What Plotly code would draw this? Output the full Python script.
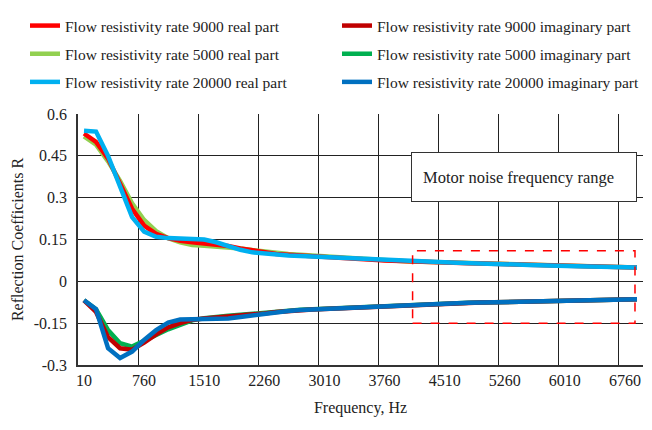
import plotly.graph_objects as go

# ---------------- data ----------------
freq = [10 + 150 * i for i in range(47)]  # 10 ... 6910 Hz (category steps of 150 Hz)
tick_labels = ["10", "760", "1510", "2260", "3010", "3760", "4510", "5260", "6010", "6760"]
tick_freqs = [10, 760, 1510, 2260, 3010, 3760, 4510, 5260, 6010, 6760]
y_ticks = [-0.3, -0.15, 0, 0.15, 0.3, 0.45, 0.6]
y_tick_text = ["-0.3", "-0.15", "0", "0.15", "0.3", "0.45", "0.6"]

real_20000 = [0.54, 0.537, 0.45, 0.34, 0.23, 0.178, 0.16, 0.155, 0.152, 0.152,
              0.15, 0.14, 0.126, 0.113, 0.104, 0.099, 0.096, 0.093, 0.091, 0.089,
              0.088, 0.086, 0.083, 0.080, 0.077, 0.075, 0.073, 0.071, 0.070, 0.069,
              0.068, 0.067, 0.065, 0.064, 0.063, 0.061, 0.060, 0.059, 0.057, 0.056,
              0.055, 0.054, 0.053, 0.052, 0.051, 0.051, 0.050]
real_9000 = [0.53, 0.50, 0.44, 0.35, 0.26, 0.20, 0.17, 0.155, 0.145, 0.14,
             0.137, 0.133, 0.127, 0.118, 0.110, 0.103, 0.098, 0.095, 0.092, 0.090,
             0.088, 0.086, 0.083, 0.080, 0.077, 0.075, 0.073, 0.071, 0.070, 0.069,
             0.068, 0.067, 0.065, 0.064, 0.063, 0.061, 0.060, 0.059, 0.057, 0.056,
             0.055, 0.054, 0.053, 0.052, 0.051, 0.051, 0.050]
real_5000 = [0.52, 0.49, 0.43, 0.36, 0.28, 0.22, 0.18, 0.155, 0.14, 0.13,
             0.128, 0.125, 0.122, 0.118, 0.112, 0.106, 0.102, 0.098, 0.095, 0.092,
             0.090, 0.087, 0.084, 0.081, 0.078, 0.075, 0.073, 0.071, 0.070, 0.069,
             0.068, 0.067, 0.065, 0.064, 0.063, 0.061, 0.060, 0.059, 0.057, 0.056,
             0.055, 0.054, 0.053, 0.052, 0.051, 0.051, 0.050]

imag_20000 = [-0.068, -0.10, -0.24, -0.275, -0.252, -0.21, -0.175, -0.148, -0.137, -0.136,
              -0.135, -0.135, -0.133, -0.128, -0.122, -0.116, -0.110, -0.106, -0.103, -0.101,
              -0.099, -0.097, -0.096, -0.094, -0.091, -0.088, -0.086, -0.084, -0.082, -0.080,
              -0.079, -0.078, -0.077, -0.076, -0.075, -0.074, -0.073, -0.072, -0.071, -0.070,
              -0.069, -0.068, -0.067, -0.066, -0.065, -0.065, -0.064]
imag_9000 = [-0.068, -0.11, -0.20, -0.24, -0.245, -0.22, -0.19, -0.165, -0.15, -0.138,
             -0.133, -0.130, -0.128, -0.125, -0.120, -0.115, -0.110, -0.106, -0.103, -0.101,
             -0.099, -0.097, -0.096, -0.094, -0.091, -0.088, -0.086, -0.084, -0.082, -0.080,
             -0.079, -0.078, -0.077, -0.076, -0.075, -0.074, -0.073, -0.072, -0.071, -0.070,
             -0.069, -0.068, -0.067, -0.066, -0.065, -0.065, -0.064]
imag_5000 = [-0.068, -0.10, -0.175, -0.222, -0.234, -0.215, -0.192, -0.172, -0.156, -0.14,
             -0.132, -0.126, -0.123, -0.120, -0.116, -0.112, -0.108, -0.105, -0.102, -0.100,
             -0.098, -0.097, -0.095, -0.093, -0.090, -0.088, -0.086, -0.084, -0.082, -0.080,
             -0.079, -0.078, -0.077, -0.076, -0.075, -0.074, -0.073, -0.072, -0.071, -0.070,
             -0.069, -0.068, -0.067, -0.066, -0.065, -0.065, -0.064]

# frequency range of motor noise (dashed box) and label
range_f = [4110, 6885]
range_r = [-0.15, 0.11]
box_label = "Motor noise frequency range"

FONT = "Liberation Serif"
TXT = "#222222"

fig = go.Figure()

series = [
    # (name, y, color, legend, rank)
    ("Flow resistivity rate 5000 real part", real_5000, "#92D050", "legend", 2),
    ("Flow resistivity rate 9000 real part", real_9000, "#FF0000", "legend", 1),
    ("Flow resistivity rate 20000 real part", real_20000, "#00B0F0", "legend", 3),
    ("Flow resistivity rate 5000 imaginary part", imag_5000, "#00B050", "legend2", 2),
    ("Flow resistivity rate 9000 imaginary part", imag_9000, "#C00000", "legend2", 1),
    ("Flow resistivity rate 20000 imaginary part", imag_20000, "#0070C0", "legend2", 3),
]
for k, (name, y, col, leg, rank) in enumerate(series):
    fig.add_trace(go.Scatter(
        x=freq, y=y, mode="lines", name=name,
        line=dict(color=col, width=4.5),
        legend=leg, legendrank=rank, legendgroup=f"g{k}",
    ))

fig.add_shape(type="rect", xref="x", yref="y",
              x0=range_f[0], x1=range_f[1], y0=range_r[0], y1=range_r[1],
              line=dict(color="#FF0000", width=1.5, dash="dash"),
              fillcolor="rgba(0,0,0,0)")

fig.add_annotation(x=5497, y=0.374, xref="x", yref="y", text=box_label,
                   showarrow=False, font=dict(family=FONT, size=16.5, color=TXT),
                   bgcolor="white", bordercolor="#333333", borderwidth=1,
                   borderpad=11, width=202, height=26, align="left")

grid_pos = [10 - 75 + 750 * k for k in range(10)]

fig.update_xaxes(
    range=[-65, 6985], tickmode="array", tickvals=tick_freqs, ticktext=tick_labels,
    showgrid=False, zeroline=False, showline=True, linecolor="#333333", linewidth=1.5,
    ticks="", tickfont=dict(family=FONT, size=16, color=TXT),
    minor=dict(tickmode="array", tickvals=grid_pos, showgrid=True,
               gridcolor="#222222", gridwidth=1, ticks=""),
    title=dict(text="Frequency, Hz", font=dict(family=FONT, size=16, color=TXT), standoff=14),
)
fig.update_yaxes(
    range=[-0.3, 0.6], tickmode="array", tickvals=y_ticks, ticktext=y_tick_text,
    showgrid=True, gridcolor="#222222", gridwidth=1, zeroline=False,
    showline=True, linecolor="#333333", linewidth=1.5, ticks="",
    ticklabelstandoff=6,
    tickfont=dict(family=FONT, size=16, color=TXT),
    title=dict(text="Reflection Coefficients R", font=dict(family=FONT, size=16, color=TXT), standoff=6),
)

PW, PH = 652 - 78 - 9, 430 - 114 - 65
leg_common = dict(font=dict(family=FONT, size=15.5, color=TXT), bgcolor="rgba(0,0,0,0)",
                  orientation="v", tracegroupgap=5,
                  xanchor="left", yanchor="top", itemclick=False, itemdoubleclick=False)
fig.update_layout(
    width=652, height=430,
    margin=dict(l=78, r=9, t=114, b=65, autoexpand=False),
    paper_bgcolor="white", plot_bgcolor="white",
    showlegend=True,
    legend=dict(x=(25 - 78) / PW, y=1 + (114 - 9) / PH, **leg_common),
    legend2=dict(x=(337 - 78) / PW, y=1 + (114 - 9) / PH, **leg_common),
)

fig.write_html("out.html")
